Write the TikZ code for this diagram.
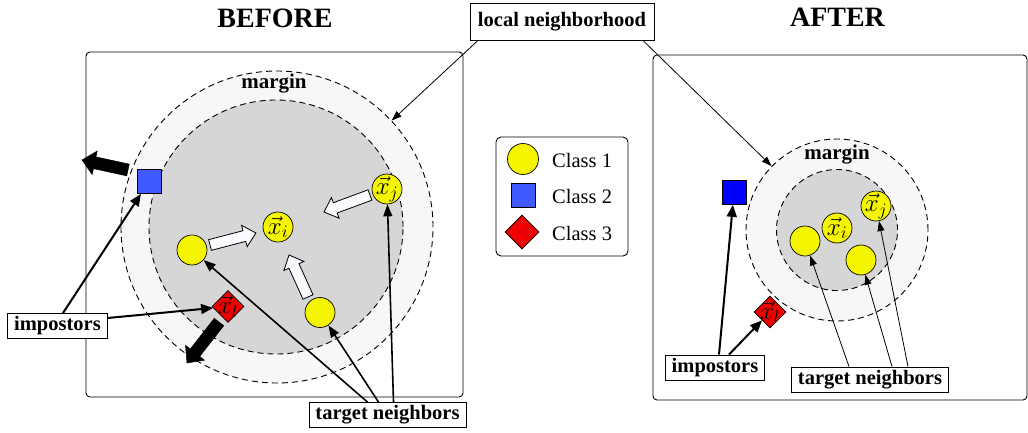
\documentclass[tikz,border=0pt]{standalone}
\usepackage{fix-cm}
\usepackage{fontspec}
\setmainfont{Liberation Serif}
\usetikzlibrary{shapes.geometric,arrows.meta,calc}
\definecolor{ptyellow}{RGB}{245,245,0}
\definecolor{ptblue}{RGB}{64,90,255}
\definecolor{ptred}{RGB}{238,0,0}
\definecolor{ringgray}{RGB}{247,247,247}
\definecolor{coregray}{RGB}{214,214,214}
\definecolor{hollowfill}{RGB}{250,250,255}
\newcommand\blockarr[6]{%
  \coordinate (baH) at ($(#3)!#6!(#2)$);
  \draw[#1] ($(#2)!#4!90:(#3)$) -- ($(baH)!#4!90:(#3)$) -- ($(baH)!#5!90:(#3)$) -- (#3)
    -- ($(baH)!#5!-90:(#3)$) -- ($(baH)!#4!-90:(#3)$) -- ($(#2)!#4!-90:(#3)$) -- cycle;}
\tikzset{
  panel/.style={draw, line width=0.9pt, rounded corners=4pt},
  title/.style={font=\bfseries\fontsize{28}{32}\selectfont, inner sep=0pt},
  ring/.style={circle, draw, dash pattern=on 6pt off 4pt, line width=0.9pt, fill=ringgray, inner sep=0pt},
  core/.style={circle, draw, dash pattern=on 6pt off 4pt, line width=0.9pt, fill=coregray, inner sep=0pt},
  mlabel/.style={font=\bfseries\fontsize{21}{24}\selectfont, inner sep=0pt},
  mathlbl/.style={font=\fontsize{25}{30}\selectfont, inner sep=0pt},
  cone/.style={circle, draw, line width=0.7pt, fill=ptyellow, minimum size=30pt, inner sep=0pt},
  ctwo/.style={rectangle, draw, line width=0.7pt, fill=ptblue, minimum size=24pt, inner sep=0pt},
  cthree/.style={diamond, aspect=1, draw, line width=0.7pt, fill=ptred, minimum size=32pt, inner sep=0pt},
  lbl/.style={draw, fill=white, line width=0.9pt, font=\bfseries\fontsize{20.5}{24}\selectfont,
    inner xsep=6.5pt, inner ysep=0pt, minimum height=25pt, text height=14pt, text depth=4.5pt},
  legtext/.style={font=\fontsize{20.5}{24}\selectfont, inner sep=0pt, anchor=west, text height=14pt, text depth=0pt},
  thinarr/.style={line width=0.8pt, -{Triangle[length=10pt,width=7pt]}},
  tnarr/.style={line width=1.6pt, -{Triangle[length=12pt,width=9pt]}},
  imparr/.style={line width=2pt, -{Triangle[length=12pt,width=10pt]}},
  hollow/.style={draw, line width=0.8pt, fill=hollowfill, line join=miter},
  solidblk/.style={fill=black, draw=black, line width=0.5pt},
}
\begin{document}
\begin{tikzpicture}[x=1pt, y=-1pt]
\useasboundingbox (0,0) rectangle (1028,432);

% titles
\node[title] (tB) at (275,18) {BEFORE};
\node[title] (tA) at (837.5,17) {AFTER};

% panels
\draw[panel] (86,52) rectangle (463,397);
\draw[panel] (653,55) rectangle (1027,400);

% ---------- BEFORE ----------
\node[ring, minimum size=312pt] (outL) at (277,227) {};
\node[core, minimum size=254pt] (inL) at (276,227) {};
\node[mlabel] (mL) at (274,84) {margin};

\node[cone, label={[mathlbl]center:$\vec{x}_i$}] (xiL) at (278,227) {};
\node[cone, label={[mathlbl]center:$\vec{x}_j$}] (xjL) at (387,189) {};
\node[cone] (tn1L) at (192,250) {};
\node[cone] (tn2L) at (320,312.5) {};
\node[ctwo] (sqL) at (149,181.5) {};
\node[cthree, label={[mathlbl]center:$\vec{x}_l$}] (xlL) at (228,306.5) {};

% hollow push arrows
\coordinate (wa1s) at (210,245); \coordinate (wa1e) at (256,233);
\coordinate (wa2s) at (308,297); \coordinate (wa2e) at (289,255);
\coordinate (wa3s) at (370,195); \coordinate (wa3e) at (324,212);
\blockarr{hollow}{wa1s}{wa1e}{5.5pt}{11pt}{12pt}
\blockarr{hollow}{wa2s}{wa2e}{5.5pt}{11pt}{12pt}
\blockarr{hollow}{wa3s}{wa3e}{5.5pt}{11pt}{12pt}

% black push arrows
\coordinate (ba1s) at (128,170); \coordinate (ba1e) at (82,160);
\coordinate (ba2s) at (219,322); \coordinate (ba2e) at (187,363);
\blockarr{solidblk}{ba1s}{ba1e}{6pt}{12pt}{13pt}
\blockarr{solidblk}{ba2s}{ba2e}{6pt}{12pt}{13pt}

% ---------- legend ----------
\node[draw, line width=0.9pt, rounded corners=5pt, minimum width=132pt, minimum height=119pt, inner sep=0pt] (leg) at (562,196.5) {};
\node[cone, minimum size=31pt] (lc1) at (523,159) {};
\node[ctwo] (lc2) at (523,195) {};
\node[cthree, minimum size=34pt] (lc3) at (522,232) {};
\node[legtext] (lt1) at (552,160) {Class 1};
\node[legtext] (lt2) at (552,196) {Class 2};
\node[legtext] (lt3) at (552,233) {Class 3};

% ---------- AFTER ----------
\node[ring, minimum size=182pt] (outR) at (837,230) {};
\node[core, minimum size=121pt] (inR) at (837,230) {};
\node[mlabel] (mR) at (837,155) {margin};

\node[cone, label={[mathlbl]center:$\vec{x}_j$}] (xjR) at (876,206) {};
\node[cone, label={[mathlbl]center:$\vec{x}_i$}] (xiR) at (837,228) {};
\node[cone] (tn1R) at (805,241) {};
\node[cone] (tn2R) at (861,260) {};
\node[ctwo, fill=blue] (sqR) at (734,192.5) {};
\node[cthree, label={[mathlbl]center:$\vec{x}_l$}] (xlR) at (770,312) {};

% ---------- labels ----------
\node[lbl, minimum height=37pt, inner xsep=8pt] (ln) at (562,21.5) {local neighborhood};
\node[lbl] (impL) at (57.5,326) {impostors};
\node[lbl] (tnL) at (387.5,415) {target neighbors};
\node[lbl] (impR) at (715,367.5) {impostors};
\node[lbl] (tnR) at (870,379.5) {target neighbors};

% ---------- connectors ----------
\draw[thinarr] ([xshift=-84pt]ln.south) -- (outL);
\draw[thinarr] ([xshift=81pt]ln.south) -- (outR);

\draw[imparr] ([xshift=5.5pt]impL.north) -- (sqL);
\draw[imparr] ([yshift=8pt]impL.east) -- (xlL);
\draw[tnarr] ([xshift=-20pt]tnL.north) -- (tn1L);
\draw[tnarr] ([xshift=-9pt]tnL.north) -- (tn2L);
\draw[tnarr] ([xshift=6pt]tnL.north) -- (xjL);

\draw[imparr] ([xshift=4pt]impR.north) -- (sqR);
\draw[imparr] ([xshift=14pt]impR.north) -- (xlR);
\draw[thinarr] ([xshift=-21pt]tnR.north) -- (tn1R);
\draw[thinarr] ([xshift=22pt]tnR.north) -- (tn2R);
\draw[thinarr] ([xshift=38pt]tnR.north) -- (xjR);
\end{tikzpicture}
\end{document}
